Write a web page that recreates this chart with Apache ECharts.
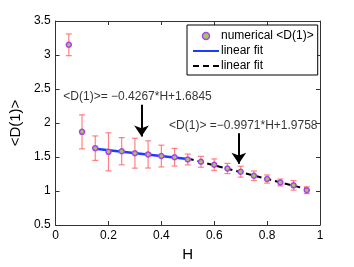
<!DOCTYPE html>
<html><head><meta charset="utf-8">
<script src="https://cdn.jsdelivr.net/npm/echarts@6/dist/echarts.min.js"></script>
<style>html,body{margin:0;padding:0;background:#fff}#c{width:354px;height:267px}</style>
</head><body><div id="c"></div>
<script>
var H = [0.05,0.10,0.15,0.20,0.25,0.30,0.35,0.40,0.45,0.50,0.55,0.60,0.65,0.70,0.75,0.80,0.85,0.90,0.95];
var meanD = [3.15,1.87,1.63,1.576,1.585,1.556,1.538,1.514,1.496,1.463,1.43,1.387,1.331,1.284,1.224,1.176,1.125,1.083,1.012];
var errD = [0.16,0.25,0.18,0.28,0.20,0.22,0.20,0.16,0.13,0.08,0.08,0.085,0.075,0.08,0.07,0.06,0.05,0.07,0.05];
var fit1 = [[0.15,1.620],[0.50,1.471]];
var fit2 = [[0.50,1.477],[0.95,1.028]];
var xTicks = [0,0.2,0.4,0.6,0.8,1];
var yTicks = [0.5,1,1.5,2,2.5,3,3.5];
var ann1 = {text:'<D(1)>= \u22120.4267*H+1.6845', pos:[0.31,2.39], arrow:[[0.325,2.27],[0.325,1.80]]};
var ann2 = {text:'<D(1)> =\u22120.9971*H+1.9758', pos:[0.71,1.955], arrow:[[0.693,1.85],[0.693,1.40]]};

var font = 'Liberation Sans, Arial, sans-serif';
var chart = echarts.init(document.getElementById('c'), null, {renderer:'canvas'});
var pts = H.map(function(h,i){return [h, meanD[i]];});
var errData = H.map(function(h,i){return [h, meanD[i]-errD[i], meanD[i]+errD[i]];});

function arrowSeries(a){
  return {type:'lines', coordinateSystem:'cartesian2d', silent:true, z:6,
    symbol:['none','arrow'], symbolSize:[0,11],
    lineStyle:{color:'#000', width:2, opacity:1},
    data:[{coords:a.arrow}]};
}
function textSeries(a){
  return {type:'scatter', symbolSize:0, silent:true, z:7,
    data:[a.pos],
    label:{show:true, position:'inside', formatter:a.text, color:'#000', fontSize:12, fontFamily:font}};
}

var axisCommon = {axisLine:{show:true, onZero:false, lineStyle:{color:'#333', width:1}},
  axisTick:{show:true, inside:true, length:4, lineStyle:{color:'#333'}},
  splitLine:{show:false}};

chart.setOption({
  animation:false,
  grid:{left:46, top:21, right:34, bottom:33, containLabel:false},
  legend:{
    orient:'vertical', left:187, top:25, width:130,
    backgroundColor:'#fff', borderColor:'#000', borderWidth:1,
    padding:[5,4,3,6], itemGap:3, itemWidth:26, itemHeight:7,
    textStyle:{fontSize:12, fontFamily:font, color:'#000', padding:[0,0,0,-3]},
    formatter:function(n){return n.trim();},
    data:[
      {name:'numerical <D(1)>', icon:'circle', itemStyle:{color:'#9acd50', borderColor:'#b040f0', borderWidth:1.5}},
      {name:'linear fit', icon:'path://M0,2.5 L26,2.5 L26,4.5 L0,4.5 Z M0,0 L0.01,0 L0.01,7 L0,7 Z', itemStyle:{color:'#1a3cff', borderWidth:0}},
      {name:'linear fit ', icon:'path://M0,2.5 L6,2.5 L6,4.5 L0,4.5 Z M10,2.5 L16,2.5 L16,4.5 L10,4.5 Z M20,2.5 L26,2.5 L26,4.5 L20,4.5 Z M0,0 L0.01,0 L0.01,7 L0,7 Z', itemStyle:{color:'#000', borderWidth:0}}
    ]
  },
  xAxis:[
    Object.assign({type:'value', min:0, max:1, interval:0.2, position:'bottom',
      name:'H', nameLocation:'middle', nameGap:22,
      nameTextStyle:{fontSize:15, fontFamily:font, color:'#000'},
      axisLabel:{fontSize:12, fontFamily:font, color:'#000', margin:5,
        formatter:function(v){return xTicks.indexOf(+v.toFixed(1))>=0 ? String(+v.toFixed(1)) : '';}}}, axisCommon),
    Object.assign({type:'value', min:0, max:1, interval:0.2, position:'top', axisLabel:{show:false}}, axisCommon)
  ],
  yAxis:[
    Object.assign({type:'value', min:0.5, max:3.5, interval:0.5, position:'left',
      name:'<D(1)>', nameLocation:'middle', nameGap:26, nameRotate:90,
      nameTextStyle:{fontSize:15, fontFamily:font, color:'#000'},
      axisLabel:{fontSize:12, fontFamily:font, color:'#000', margin:5,
        formatter:function(v){return yTicks.indexOf(+v.toFixed(1))>=0 ? String(+v.toFixed(1)) : '';}}}, axisCommon),
    Object.assign({type:'value', min:0.5, max:3.5, interval:0.5, position:'right', axisLabel:{show:false}}, axisCommon)
  ],
  series:[
    {type:'custom', name:'err', silent:true, z:2, data:errData,
      renderItem:function(params, api){
        var lo = api.coord([api.value(0), api.value(1)]);
        var hi = api.coord([api.value(0), api.value(2)]);
        var w = 3;
        var st = {stroke:'#ff5a5a', lineWidth:1.2, opacity:0.75};
        return {type:'group', children:[
          {type:'line', shape:{x1:lo[0], y1:lo[1], x2:hi[0], y2:hi[1]}, style:st},
          {type:'line', shape:{x1:lo[0]-w, y1:lo[1], x2:lo[0]+w, y2:lo[1]}, style:st},
          {type:'line', shape:{x1:hi[0]-w, y1:hi[1], x2:hi[0]+w, y2:hi[1]}, style:st}
        ]};
      }},
    {type:'line', name:'linear fit', data:fit1, z:3, symbol:'none',
      lineStyle:{color:'#1a3cff', width:2.5}, itemStyle:{color:'#1a3cff'}},
    {type:'line', name:'linear fit ', data:fit2, z:3, symbol:'none',
      lineStyle:{color:'#000', width:2, type:[6,4]}, itemStyle:{color:'#000'}},
    {type:'scatter', name:'numerical <D(1)>', data:pts, z:4, symbol:'circle', symbolSize:5,
      itemStyle:{color:'#9acd50', borderColor:'#b040f0', borderWidth:1.5, opacity:1}},
    arrowSeries(ann1), arrowSeries(ann2), textSeries(ann1), textSeries(ann2)
  ]
});
</script></body></html>
